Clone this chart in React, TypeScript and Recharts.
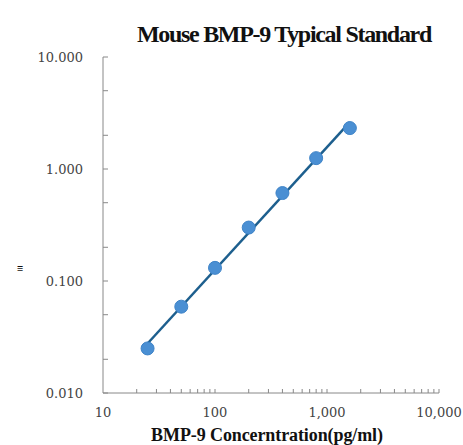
import { ComposedChart, XAxis, YAxis, Scatter, Line } from "recharts";

const concentrations = [25, 50, 100, 200, 400, 800, 1600];
const odValues = [0.025, 0.059, 0.131, 0.3, 0.61, 1.25, 2.32];
const xMajorTicks = [10, 100, 1000, 10000];
const yMajorTicks = [0.01, 0.1, 1, 10];

const points = concentrations.map((c, i) => ({ conc: c, od: odValues[i] }));

// log-log least squares trendline, like the Excel power fit
const lx = concentrations.map(Math.log10);
const ly = odValues.map(Math.log10);
const mx = lx.reduce((a, b) => a + b, 0) / lx.length;
const my = ly.reduce((a, b) => a + b, 0) / ly.length;
const slope =
  lx.reduce((s, v, i) => s + (v - mx) * (ly[i] - my), 0) /
  lx.reduce((s, v) => s + (v - mx) * (v - mx), 0);
const fitAt = (c: number) => Math.pow(10, my + slope * (Math.log10(c) - mx));
const fitLine = [concentrations[0], concentrations[concentrations.length - 1]].map(
  (c) => ({ conc: c, od: fitAt(c) })
);

const xTicks: number[] = [];
xMajorTicks.slice(0, -1).forEach((d) => {
  for (let k = 1; k < 10; k++) xTicks.push(d * k);
});
xTicks.push(10000);

const yTicks: number[] = [];
yMajorTicks.slice(0, -1).forEach((d) => {
  yTicks.push(d, d * 2, d * 5);
});
yTicks.push(10);

const tickFont = { fontFamily: "DejaVu Serif", fontSize: 13, fill: "#444" };

const XTick = (props: any) => {
  const { x, y, payload } = props;
  const major = xMajorTicks.includes(payload.value);
  return (
    <g>
      {payload.value !== 10 ? (
        <line x1={x} x2={x} y1={y} y2={y - 4} stroke="#888" />
      ) : null}
      {major && (
        <text x={x} y={y + 24} textAnchor="middle" {...tickFont}>
          {payload.value.toLocaleString("en-US")}
        </text>
      )}
    </g>
  );
};

const YTick = (props: any) => {
  const { x, y, payload } = props;
  const major = yMajorTicks.includes(payload.value);
  return (
    <g>
      <line x1={x} x2={x + 5} y1={y} y2={y} stroke="#888" />
      {major && (
        <text x={x - 20} y={y + 5} textAnchor="end" {...tickFont}>
          {payload.value.toFixed(3)}
        </text>
      )}
    </g>
  );
};

export default function App() {
  return (
    <div style={{ position: "absolute", left: 0, top: 0, width: 463, height: 445, background: "#fff" }}>
      <ComposedChart
        width={463}
        height={445}
        margin={{ top: 57, right: 24, bottom: 0, left: 0 }}
      >
        <text
          x={284}
          y={42}
          textAnchor="middle"
          fontFamily="Liberation Serif"
          fontWeight="bold"
          fontSize={24}
          letterSpacing={-1.3}
          fill="#111"
        >
          Mouse BMP-9 Typical Standard
        </text>
        <text x={20} y={272} textAnchor="middle" fontSize={11} fontWeight="bold" fill="#111">
          ≡
        </text>
        <XAxis
          dataKey="conc"
          type="number"
          scale="log"
          domain={[10, 10000]}
          ticks={xTicks}
          interval={0}
          height={52}
          tickSize={0}
          tickMargin={0}
          tickLine={false}
          tick={<XTick />}
          axisLine={{ stroke: "#888" }}
          allowDataOverflow
        />
        <YAxis
          dataKey="od"
          type="number"
          scale="log"
          domain={[0.01, 10]}
          ticks={yTicks}
          interval={0}
          width={103}
          tickSize={0}
          tickMargin={0}
          tickLine={false}
          tick={<YTick />}
          axisLine={{ stroke: "#888" }}
          allowDataOverflow
        />
        <Scatter
          data={points}
          fill="#4a8fd3"
          shape={(p: any) => <circle cx={p.cx} cy={p.cy} r={6.5} fill="#4a8fd3" stroke="#3f84c8" />}
          isAnimationActive={false}
        />
        <Line
          data={fitLine}
          dataKey="od"
          stroke="#1d5f8e"
          strokeWidth={2.5}
          dot={false}
          activeDot={false}
          isAnimationActive={false}
        />
        <text
          x={267}
          y={441}
          textAnchor="middle"
          fontFamily="Liberation Serif"
          fontWeight="bold"
          fontSize={18}
          letterSpacing={-0.1}
          fill="#111"
        >
          BMP-9 Concerntration(pg/ml)
        </text>
      </ComposedChart>
    </div>
  );
}
